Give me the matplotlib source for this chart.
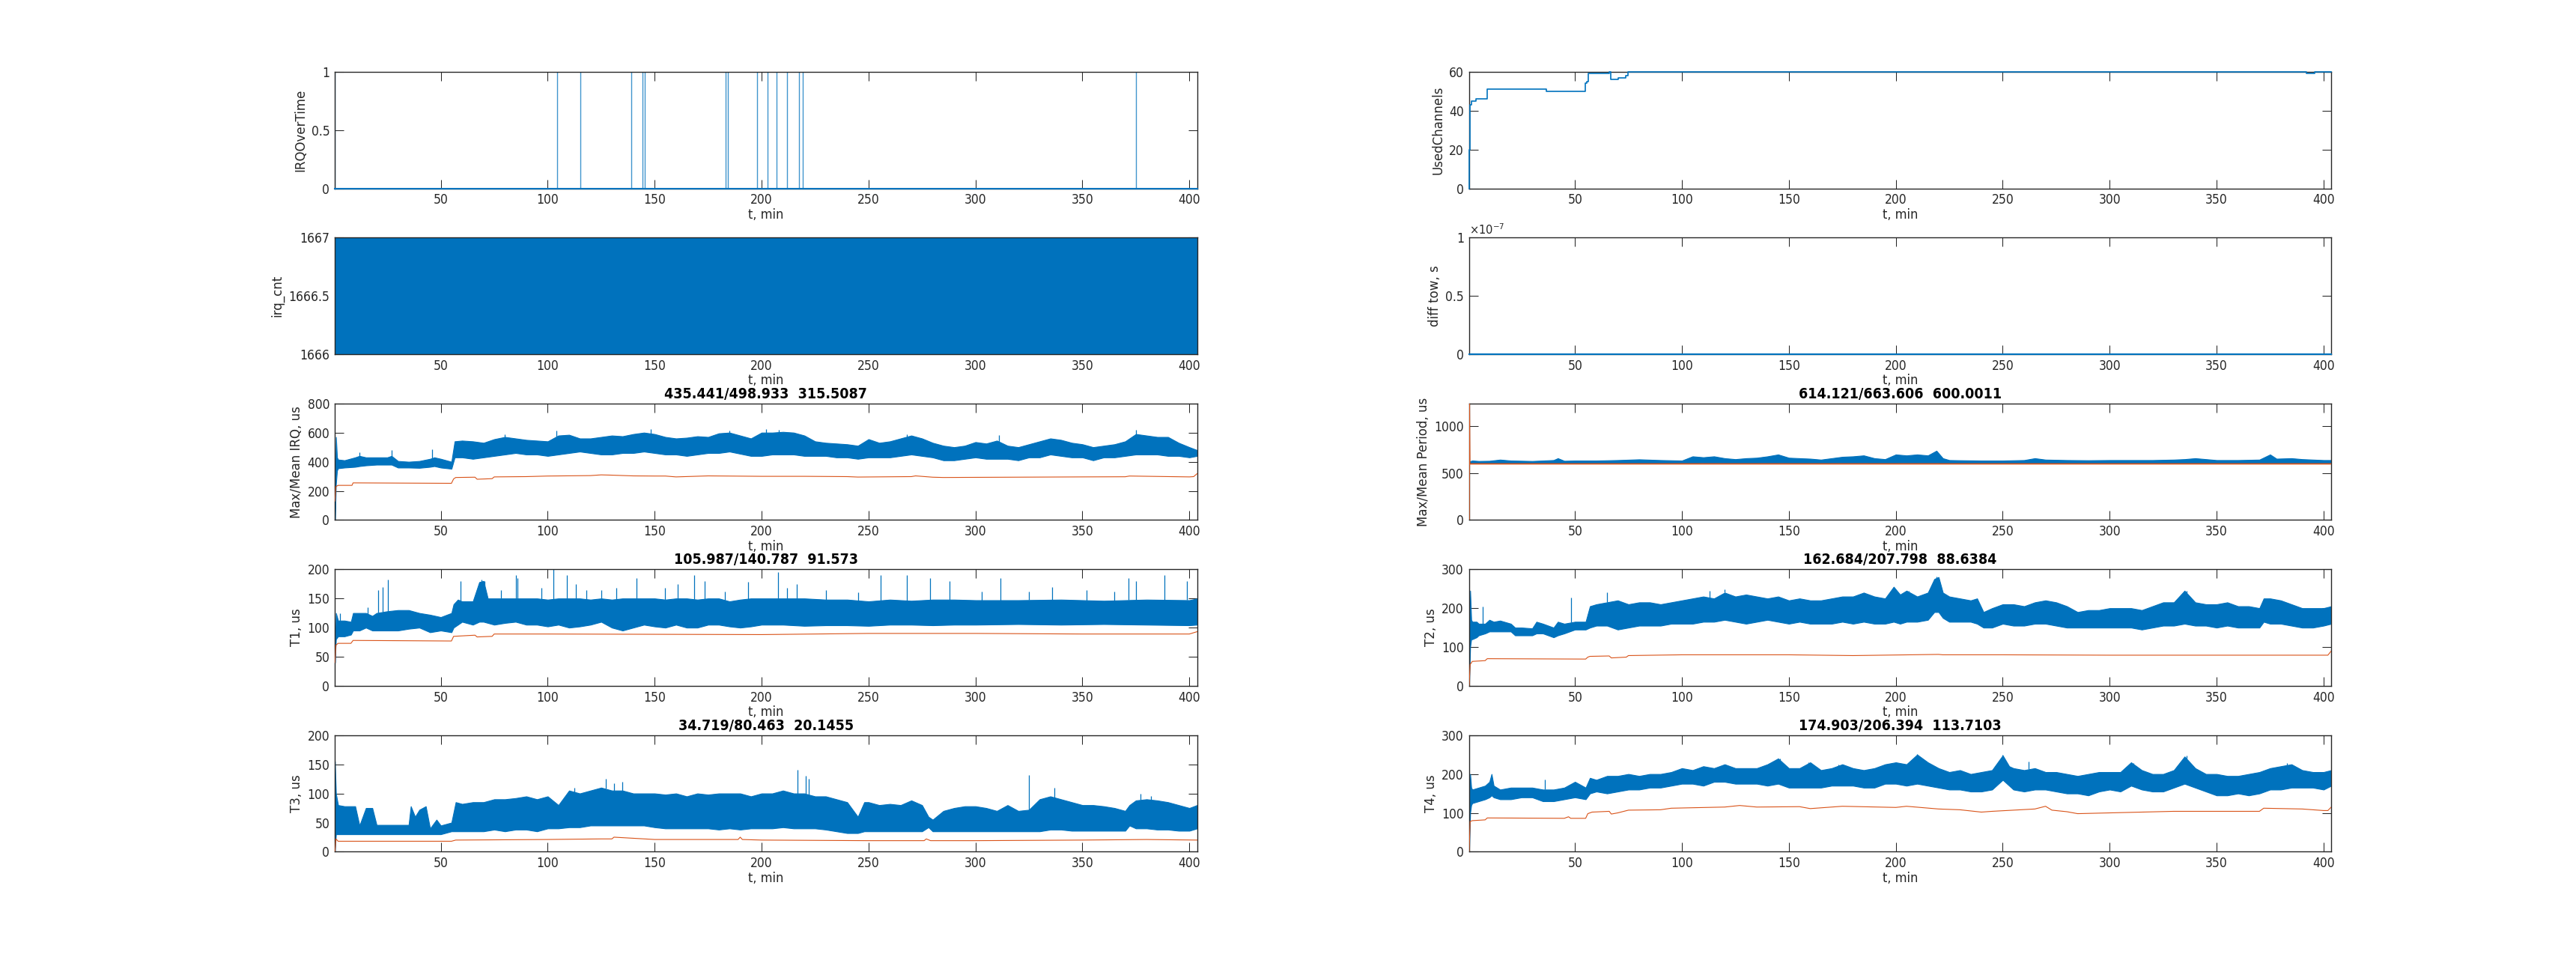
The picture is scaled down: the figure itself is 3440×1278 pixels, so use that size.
import numpy as np
import matplotlib
matplotlib.use("Agg")
import matplotlib.pyplot as plt
from matplotlib import font_manager as fm

# ---------------- data ----------------
t_start, t_end = 0.5, 403.6
x_ticks = [50, 100, 150, 200, 250, 300, 350, 400]

# IRQOverTime events (value 1), else 0
irq_over_t = [0.5, 104.4, 115.1, 138.9, 144.4, 145.2, 183.1, 184.4, 197.8, 202.7,
              207.1, 212.0, 217.5, 219.4, 375.1]

# irq_cnt alternates between two values
irq_cnt_levels = [1666, 1667]

# UsedChannels (step data)
uc_t = [0.5, 0.6, 1.0, 1.7, 3.6, 9.0, 36.6, 54.9, 55.6, 56.4, 66.0, 66.8, 70.4, 73.8,
        74.8, 392.0, 396.0, 403.6]
uc_v = [0, 20, 43, 45, 46, 51, 50, 54, 55, 59, 60, 56, 57, 58, 60, 59, 60, 60]

# diff tow
dt_t = [0.5, 403.6]
dt_v = [0.0, 0.0]

# Max/Mean IRQ
irq_t = [0.5, 1.0, 1.5, 2, 5, 10, 12, 15, 20, 25, 27, 30, 35, 40, 45, 47, 50, 55, 56.5,
         60, 65, 70, 75, 80, 85, 90, 95, 100, 105, 110, 115, 120, 125, 130, 135, 140,
         145, 150, 155, 160, 165, 170, 175, 180, 185, 190, 195, 200, 205, 210, 215, 220,
         225, 230, 235, 240, 245, 250, 255, 260, 265, 270, 275, 280, 285, 290, 295, 300,
         305, 310, 315, 320, 325, 330, 335, 340, 345, 350, 355, 360, 365, 370, 375, 380,
         385, 390, 395, 400, 403.6]
irq_lo = [0, 250, 340, 355, 360, 365, 370, 375, 380, 380, 380, 360, 360, 358, 365, 370,
          360, 352, 430, 430, 420, 430, 440, 450, 460, 450, 450, 440, 450, 460, 470, 460,
          450, 450, 460, 460, 470, 460, 450, 450, 440, 450, 460, 460, 470, 455, 440, 440,
          450, 450, 450, 440, 440, 440, 430, 430, 420, 430, 430, 430, 440, 450, 440, 430,
          410, 410, 420, 430, 420, 420, 420, 410, 430, 430, 450, 440, 430, 430, 410, 430,
          430, 440, 450, 450, 450, 440, 440, 430, 440]
irq_hi = [150, 570, 430, 415, 410, 430, 440, 430, 430, 430, 440, 405, 400, 405, 420, 430,
          420, 400, 540, 545, 540, 530, 555, 570, 560, 550, 545, 540, 580, 585, 560, 560,
          570, 580, 575, 590, 600, 590, 570, 560, 565, 575, 570, 595, 600, 580, 560, 600,
          600, 605, 600, 580, 540, 530, 525, 520, 510, 555, 530, 540, 560, 580, 560, 530,
          510, 500, 510, 535, 525, 545, 510, 500, 520, 540, 560, 550, 530, 520, 500, 510,
          520, 540, 590, 580, 570, 570, 530, 500, 480]
irq_spk_t = [12, 27, 46, 80, 104, 148, 185, 202, 208, 250, 268, 311, 375]
irq_spk_v = [465, 478, 485, 590, 612, 624, 612, 622, 620, 555, 588, 582, 617]
irq_mean_t = [0.5, 1, 2, 8.5, 9, 55, 56, 57, 66, 67, 74, 75, 90, 100, 120, 125, 130, 140,
              150, 155, 160, 175, 200, 220, 240, 245, 270, 272, 280, 285, 300, 350, 370,
              372, 400, 402, 403.6]
irq_mean_v = [130, 230, 238, 238, 255, 252, 282, 292, 294, 280, 284, 296, 298, 302, 305,
              310, 308, 303, 302, 302, 296, 303, 300, 300, 298, 295, 298, 303, 294, 292,
              293, 296, 297, 302, 296, 298, 318]

# Max/Mean Period
per_t = [0.5, 2, 5, 10, 15, 20, 30, 40, 42, 45, 50, 60, 70, 80, 90, 100, 105, 110, 115,
         120, 125, 130, 135, 140, 145, 150, 155, 160, 165, 170, 175, 180, 185, 190, 195,
         200, 205, 210, 215, 219, 222, 225, 230, 240, 250, 260, 265, 270, 280, 290, 300,
         310, 320, 330, 335, 340, 350, 360, 370, 375, 378, 385, 390, 400, 403.6]
per_lo = [605, 605, 605, 605, 605, 605, 605, 605, 605, 605, 605, 605, 605, 605, 605, 605,
          605, 610, 610, 608, 605, 605, 608, 610, 610, 608, 605, 605, 605, 608, 610, 610,
          610, 605, 605, 608, 610, 610, 610, 610, 605, 605, 605, 605, 605, 605, 605, 605,
          605, 605, 605, 605, 605, 605, 605, 605, 605, 605, 605, 605, 605, 605, 605, 605,
          605]
per_hi = [625, 635, 630, 632, 645, 635, 630, 640, 660, 632, 635, 635, 640, 648, 640, 635,
          680, 670, 680, 660, 650, 660, 665, 680, 700, 665, 660, 655, 645, 660, 675, 680,
          690, 660, 650, 700, 690, 700, 690, 740, 660, 640, 638, 635, 635, 640, 660, 645,
          640, 638, 640, 640, 640, 645, 650, 660, 640, 640, 645, 700, 655, 660, 650, 640,
          640]
per_mean_t = [0.5, 0.6, 0.8, 403.6]
per_mean_v = [0, 1245, 600, 600]

# T1
t1_t = [0.5, 1, 2, 5, 8, 9, 12, 15, 18, 20, 25, 30, 35, 40, 45, 50, 55, 56, 58, 60, 65,
        68, 70, 72, 75, 80, 85, 90, 95, 100, 105, 110, 115, 120, 125, 130, 135, 140,
        145, 150, 155, 160, 165, 170, 175, 180, 185, 190, 195, 200, 210, 220, 230, 240,
        250, 260, 270, 280, 290, 300, 320, 340, 360, 380, 400, 403.6]
t1_lo = [40, 80, 85, 85, 88, 95, 95, 100, 95, 95, 95, 95, 98, 100, 92, 95, 92, 100, 105,
         110, 105, 110, 110, 108, 105, 108, 110, 105, 105, 102, 105, 100, 102, 105, 110,
         100, 95, 100, 105, 102, 100, 105, 100, 100, 105, 105, 102, 100, 102, 105, 105,
         103, 104, 104, 103, 105, 105, 104, 105, 105, 106, 105, 106, 105, 104, 105]
t1_hi = [60, 125, 112, 112, 110, 125, 125, 125, 120, 125, 128, 130, 130, 125, 122, 118,
         125, 140, 148, 145, 145, 178, 180, 150, 150, 150, 150, 150, 150, 148, 150, 150,
         150, 148, 150, 148, 150, 150, 150, 150, 148, 150, 150, 148, 150, 150, 145, 148,
         150, 150, 150, 150, 148, 148, 145, 148, 146, 148, 148, 147, 147, 148, 146, 148,
         147, 150]
t1_spk_t = [3, 16, 20.8, 22.7, 25.4, 59.3, 69, 70.5, 78, 85, 86, 97, 102.7, 109, 113, 118,
            125, 132, 141.5, 155, 160.7, 168.6, 173.5, 183, 193.7, 207.6, 212, 216.4, 230,
            245, 255.7, 267.8, 278.7, 287.7, 303, 311.5, 325, 336, 352, 365, 371.6, 375,
            388.3, 399]
t1_spk_v = [125, 135, 165, 170, 183, 180, 182, 180, 165, 190, 185, 168, 200, 190, 175, 165,
            165, 168, 185, 168, 175, 190, 180, 162, 178, 195, 168, 175, 165, 160, 190, 190,
            185, 180, 162, 185, 162, 170, 165, 162, 185, 180, 190, 180]
t1_mean_t = [0.5, 1, 2, 8, 9, 55, 56, 66, 67, 74, 75, 100, 200, 250, 300, 350, 400, 403.6]
t1_mean_v = [40, 70, 73, 73, 78, 77, 85, 87, 84, 85, 89, 89, 88, 90, 90, 89, 89, 93]

# T2
t2_t = [0.5, 1, 1.5, 2, 4, 5, 8, 10, 12, 15, 20, 22, 25, 30, 32, 35, 40, 42, 45, 50, 55,
        57, 60, 65, 70, 75, 80, 85, 90, 95, 100, 105, 110, 115, 120, 125, 130, 135, 140,
        145, 150, 155, 160, 165, 170, 175, 180, 185, 190, 195, 199, 202, 205, 210, 215,
        218, 220, 222, 225, 230, 235, 238, 241, 245, 250, 255, 260, 265, 270, 275, 280,
        285, 290, 295, 300, 305, 310, 315, 320, 325, 330, 335, 340, 345, 350, 355, 360,
        365, 370, 372, 375, 380, 385, 390, 395, 400, 403.6]
t2_lo = [0, 100, 120, 120, 125, 130, 135, 140, 140, 140, 140, 130, 130, 130, 135, 135,
         125, 130, 135, 145, 145, 150, 155, 155, 145, 150, 155, 155, 155, 160, 160, 160,
         165, 165, 170, 165, 160, 165, 170, 165, 160, 165, 160, 160, 160, 165, 160, 165,
         160, 160, 165, 160, 165, 165, 170, 190, 190, 175, 165, 165, 165, 160, 150, 150,
         160, 155, 155, 160, 160, 155, 150, 150, 150, 150, 150, 150, 150, 145, 150, 155,
         155, 160, 155, 155, 150, 155, 150, 150, 150, 165, 160, 160, 155, 150, 150, 155,
         160]
t2_hi = [60, 245, 170, 165, 165, 160, 160, 170, 165, 168, 160, 150, 150, 148, 165, 160,
         150, 165, 160, 165, 165, 205, 210, 215, 220, 210, 215, 215, 210, 215, 220, 225,
         230, 225, 240, 230, 235, 230, 225, 230, 220, 225, 220, 220, 225, 230, 230, 240,
         230, 225, 255, 235, 245, 230, 240, 275, 280, 240, 230, 225, 220, 225, 190, 200,
         210, 210, 205, 215, 220, 215, 205, 190, 195, 195, 200, 200, 200, 195, 205, 215,
         215, 245, 215, 210, 210, 215, 205, 205, 200, 225, 225, 220, 210, 200, 200, 200,
         205]
t2_spk_t = [7, 48, 65, 113, 120, 199, 206, 219, 336]
t2_spk_v = [205, 228, 240, 245, 248, 253, 245, 282, 245]
t2_mean_t = [0.5, 1, 2, 8, 9, 55, 56, 57, 66, 67, 74, 75, 100, 150, 180, 220, 222, 250,
             300, 402, 403.6]
t2_mean_v = [0, 55, 63, 65, 70, 69, 74, 76, 77, 72, 74, 78, 80, 80, 78, 81, 80, 80, 79,
             79, 90]

# T3
t3_t = [0.5, 1, 2, 5, 10, 12, 15, 18, 20, 25, 30, 35, 36, 38, 40, 43, 45, 48, 50, 55, 57,
        60, 65, 70, 75, 80, 85, 90, 95, 100, 105, 110, 115, 120, 125, 130, 135, 140, 145,
        150, 155, 160, 165, 170, 175, 180, 185, 190, 195, 200, 205, 210, 215, 220, 225,
        230, 235, 240, 245, 248, 250, 255, 260, 265, 270, 275, 278, 280, 285, 290, 295,
        300, 305, 310, 315, 320, 325, 330, 335, 340, 345, 350, 355, 360, 365, 370, 372,
        375, 380, 385, 390, 395, 400, 403.6]
t3_lo = [0, 30, 30, 30, 30, 30, 30, 30, 30, 30, 30, 30, 30, 30, 30, 30, 30, 30, 30, 35,
         35, 35, 35, 35, 38, 35, 38, 38, 35, 40, 40, 42, 42, 45, 45, 45, 45, 45, 45, 42,
         40, 40, 40, 40, 40, 38, 40, 38, 40, 40, 40, 42, 40, 40, 40, 38, 35, 32, 32, 35,
         35, 35, 35, 35, 35, 35, 42, 35, 35, 35, 35, 35, 35, 35, 35, 35, 35, 35, 38, 38,
         36, 36, 36, 36, 36, 36, 45, 40, 40, 38, 38, 36, 36, 40]
t3_hi = [155, 100, 80, 78, 78, 45, 75, 75, 46, 46, 46, 46, 78, 60, 72, 78, 40, 55, 45,
         50, 85, 82, 85, 85, 90, 90, 92, 95, 90, 95, 80, 105, 100, 105, 110, 105, 105,
         100, 100, 100, 98, 100, 95, 100, 98, 100, 100, 100, 95, 100, 100, 105, 100, 100,
         95, 95, 90, 85, 60, 85, 85, 80, 82, 80, 88, 80, 60, 55, 70, 75, 78, 78, 75, 70,
         80, 70, 72, 90, 95, 90, 85, 80, 80, 78, 75, 70, 80, 88, 90, 88, 85, 80, 75, 80]
t3_spk_t = [112.6, 127, 131, 135, 216.7, 220.8, 222, 325, 337, 377, 382]
t3_spk_v = [110, 125, 118, 120, 140, 130, 125, 132, 110, 100, 95]
t3_mean_t = [0.5, 1, 2, 55, 57, 100, 125, 130, 131, 150, 189, 190, 191, 200, 250, 276,
             277, 279, 300, 350, 380, 403.6]
t3_mean_v = [0, 22, 18, 18, 20, 21, 22, 22, 25, 21, 21, 25, 21, 20, 19, 19, 22, 19, 19,
             20, 21, 20]

# T4
t4_t = [0.5, 1, 1.5, 2, 5, 8, 10, 11, 12, 15, 20, 25, 30, 35, 40, 45, 50, 55, 57, 60, 65,
        70, 75, 80, 85, 90, 95, 100, 105, 110, 115, 120, 125, 130, 135, 140, 145, 150,
        155, 160, 165, 170, 175, 180, 185, 190, 195, 200, 205, 210, 215, 220, 225, 230,
        235, 240, 245, 250, 253, 255, 260, 265, 270, 275, 280, 285, 290, 295, 300, 305,
        310, 315, 320, 325, 330, 335, 340, 345, 350, 355, 360, 365, 370, 375, 380, 385,
        390, 395, 400, 403.6]
t4_lo = [0, 100, 120, 125, 130, 135, 140, 145, 140, 135, 135, 140, 140, 130, 130, 135,
         140, 135, 150, 155, 150, 155, 160, 160, 165, 165, 170, 175, 175, 170, 180, 180,
         175, 175, 175, 170, 175, 165, 165, 165, 165, 170, 170, 170, 165, 165, 175, 175,
         170, 175, 170, 165, 160, 160, 155, 155, 160, 185, 170, 160, 155, 160, 160, 155,
         150, 150, 145, 155, 160, 155, 170, 160, 155, 155, 165, 175, 165, 155, 145, 145,
         150, 145, 150, 160, 160, 165, 165, 165, 160, 170]
t4_hi = [60, 200, 165, 160, 165, 170, 180, 200, 170, 160, 165, 165, 165, 160, 160, 165,
         180, 165, 190, 185, 195, 195, 200, 195, 200, 200, 205, 215, 210, 220, 215, 225,
         215, 215, 215, 225, 240, 215, 215, 230, 210, 215, 225, 215, 210, 215, 225, 230,
         225, 250, 230, 215, 205, 210, 200, 205, 210, 248, 220, 215, 210, 215, 205, 205,
         200, 195, 200, 205, 205, 205, 230, 210, 200, 200, 210, 245, 215, 200, 200, 195,
         195, 200, 205, 215, 220, 225, 210, 205, 205, 210]
t4_spk_t = [36, 50, 146, 159, 173, 210, 250, 262, 311, 336, 383]
t4_spk_v = [185, 180, 240, 230, 225, 252, 250, 232, 228, 248, 228]
t4_mean_t = [0.5, 1, 2, 8, 9, 45, 47, 48, 55, 56, 58, 66, 67, 70, 75, 90, 95, 120, 127,
             135, 155, 160, 175, 200, 205, 220, 230, 240, 245, 265, 270, 273, 280, 285,
             300, 330, 370, 372, 390, 400, 402, 403.6]
t4_mean_v = [0, 78, 80, 82, 87, 86, 90, 86, 86, 98, 102, 104, 97, 100, 107, 108, 112, 115,
             119, 115, 116, 111, 117, 114, 117, 110, 108, 102, 104, 110, 117, 107, 103, 98,
             100, 104, 104, 112, 110, 106, 106, 115]

titles = {
    "irq": "435.441/498.933  315.5087",
    "per": "614.121/663.606  600.0011",
    "t1": "105.987/140.787  91.573",
    "t2": "162.684/207.798  88.6384",
    "t3": "34.719/80.463  20.1455",
    "t4": "174.903/206.394  113.7103",
}

# ---------------- style ----------------
BLUE = "#0072BD"
RED = "#D95319"
AX = "#262626"

names = [(f.name, f.stretch) for f in fm.fontManager.ttflist]
if ("DejaVu Sans", "condensed") in names:
    COND = dict(family="DejaVu Sans", stretch="condensed")
elif any(n == "Liberation Sans Narrow" for n, s in names):
    COND = dict(family="Liberation Sans Narrow")
else:
    COND = dict(family="DejaVu Sans")
COND_FP = fm.FontProperties(**COND, size=12.5)

plt.rcParams["font.family"] = ["DejaVu Sans"]

fig = plt.figure(figsize=(34.4, 12.78), dpi=100)
fig.patch.set_facecolor("white")

left_x = [0.13, 0.5703]
w = 0.3347
h = 0.1218
bottoms = [0.8032, 0.6299, 0.4566, 0.2833, 0.11]


def make_ax(row, col, ylabel, ylim, yticks, yticklabels=None):
    ax = fig.add_axes([left_x[col], bottoms[row], w, h])
    ax.set_xlim(t_start, t_end)
    ax.set_ylim(*ylim)
    ax.set_xticks(x_ticks)
    ax.set_yticks(yticks)
    if yticklabels is not None:
        ax.set_yticklabels(yticklabels)
    ax.tick_params(direction="in", length=8.5, width=0.75, color=AX, labelcolor=AX,
                   top=True, right=True, pad=5)
    for lab in ax.get_xticklabels() + ax.get_yticklabels():
        lab.set_fontproperties(COND_FP)
    for s in ax.spines.values():
        s.set_color(AX)
        s.set_linewidth(1.0)
    ax.set_xlabel("t, min", color=AX, labelpad=1,
                  fontproperties=fm.FontProperties(**COND, size=13))
    ax.set_ylabel(ylabel, color=AX, fontsize=12, labelpad=4)
    return ax


def band(ax, t, lo, hi, st, sv, mt, mv):
    ax.fill_between(t, lo, hi, color=BLUE, lw=0.8, edgecolor=BLUE, zorder=2)
    base = np.interp(st, t, hi)
    ax.vlines(st, base, sv, color=BLUE, lw=0.9, zorder=2)
    ax.plot(mt, mv, color=RED, lw=0.8, zorder=3)


def title(ax, s):
    ax.set_title(s, fontproperties=fm.FontProperties(**COND, size=14, weight="bold"),
                 pad=5)


# row 1 left: IRQOverTime
ax = make_ax(0, 0, "IRQOverTime", (0, 1), [0, 0.5, 1], ["0", "0.5", "1"])
ax.vlines(irq_over_t, 0, 1, color=BLUE, lw=1.0, alpha=0.75, zorder=2)
ax.plot([t_start, t_end], [0, 0], color=BLUE, lw=1.5, zorder=5, clip_on=False)

# row 2 left: irq_cnt
ax = make_ax(1, 0, "irq_cnt", (1666, 1667), [1666, 1666.5, 1667],
             ["1666", "1666.5", "1667"])
ax.fill_between([t_start, t_end], irq_cnt_levels[0], irq_cnt_levels[1], color=BLUE,
                lw=0, zorder=2)

# row 1 right: UsedChannels
ax = make_ax(0, 1, "UsedChannels", (0, 60), [0, 20, 40, 60])
ax.plot(uc_t, uc_v, color=BLUE, lw=1.2, drawstyle="steps-post", zorder=5, clip_on=False)

# row 2 right: diff tow
ax = make_ax(1, 1, "diff tow, s", (0, 1e-7), [0, 0.5e-7, 1e-7], ["0", "0.5", "1"])
ax.plot(dt_t, dt_v, color=BLUE, lw=1.5, zorder=5, clip_on=False)
ax.text(0.0, 1.01, r"$\times10^{-7}$", transform=ax.transAxes, ha="left", va="bottom",
        fontsize=10.5, color=AX)

# row 3
ax = make_ax(2, 0, "Max/Mean IRQ, us", (0, 800), [0, 200, 400, 600, 800])
band(ax, irq_t, irq_lo, irq_hi, irq_spk_t, irq_spk_v, irq_mean_t, irq_mean_v)
title(ax, titles["irq"])

ax = make_ax(2, 1, "Max/Mean Period, us", (0, 1245), [0, 500, 1000])
band(ax, per_t, per_lo, per_hi, [], [], per_mean_t, per_mean_v)
ax.lines[-1].set_linewidth(1.3)
title(ax, titles["per"])

# row 4
ax = make_ax(3, 0, "T1, us", (0, 200), [0, 50, 100, 150, 200])
band(ax, t1_t, t1_lo, t1_hi, t1_spk_t, t1_spk_v, t1_mean_t, t1_mean_v)
title(ax, titles["t1"])

ax = make_ax(3, 1, "T2, us", (0, 300), [0, 100, 200, 300])
band(ax, t2_t, t2_lo, t2_hi, t2_spk_t, t2_spk_v, t2_mean_t, t2_mean_v)
title(ax, titles["t2"])

# row 5
ax = make_ax(4, 0, "T3, us", (0, 200), [0, 50, 100, 150, 200])
band(ax, t3_t, t3_lo, t3_hi, t3_spk_t, t3_spk_v, t3_mean_t, t3_mean_v)
title(ax, titles["t3"])

ax = make_ax(4, 1, "T4, us", (0, 300), [0, 100, 200, 300])
band(ax, t4_t, t4_lo, t4_hi, t4_spk_t, t4_spk_v, t4_mean_t, t4_mean_v)
title(ax, titles["t4"])

fig.savefig("out.png", dpi=100, facecolor="white")
